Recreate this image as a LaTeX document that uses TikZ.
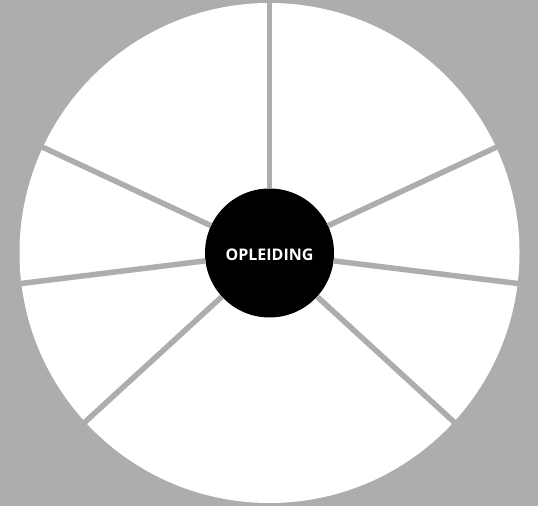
\documentclass[tikz,border=0pt]{standalone}
\usepackage{fontspec}
\usetikzlibrary{calc}
\newfontfamily\labelfont{Open Sans}
\definecolor{bggrey}{HTML}{ADADAD}
\begin{document}
\begin{tikzpicture}[x=1pt,y=1pt,
  spoke/.style={draw=bggrey,line width=5.5pt},
  hub/.style={circle,fill=black,minimum size=129pt,inner sep=0pt},
  hublabel/.style={text=white,font=\labelfont\bfseries\fontsize{16}{18}\selectfont}]
  \fill[bggrey] (0,0) rectangle (538,506);
  \useasboundingbox (0,0) rectangle (538,506);
  \coordinate (o) at (269.5,253);
  \fill[white] (o) circle (250);
  \node[hub] (c) at (o) {};
  \node[hublabel] (t) at ($(o)+(0,-1.5)$) {OPLEIDING};
  \foreach \a [count=\i] in {90,25,-7,-42.5,-137.5,187,155} {
    \coordinate (e\i) at ($(o)+(\a:252)$);
    \draw[spoke] (c) -- (e\i);
  }
\end{tikzpicture}
\end{document}
